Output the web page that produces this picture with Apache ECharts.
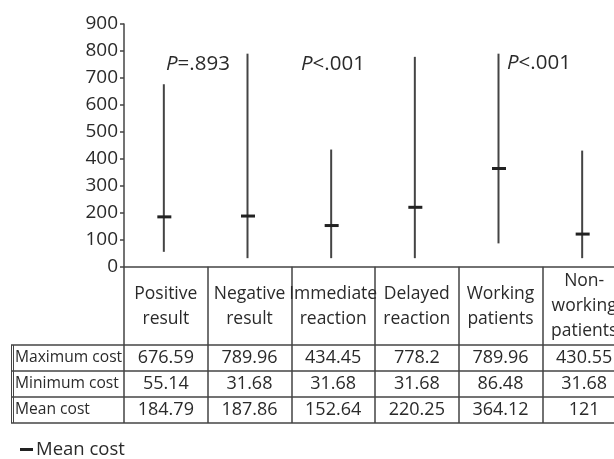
<!DOCTYPE html>
<html>
<head>
<meta charset="utf-8">
<style>html,body{margin:0;padding:0;background:#fff;}#c{width:614px;height:459px;}</style>
<script src="https://cdn.jsdelivr.net/npm/echarts@6/dist/echarts.min.js"></script>
</head>
<body>
<div id="c"></div>
<script>
// ---- data ----
const categories = ['Positive\nresult', 'Negative\nresult', 'Immediate\nreaction', 'Delayed\nreaction', 'Working\npatients', 'Non-\nworking\npatients'];
const maxCost = [676.59, 789.96, 434.45, 778.2, 789.96, 430.55];
const minCost = [55.14, 31.68, 31.68, 31.68, 86.48, 31.68];
const meanCost = [184.79, 187.86, 152.64, 220.25, 364.12, 121];
const rowLabels = ['Maximum cost', 'Minimum cost', 'Mean cost'];
const pLabels = ['=.893', '<.001', '<.001'];
const yMin = 0, yMax = 900, yInterval = 100;

// ---- layout ----
const FONT = 'Open Sans';
const TXT = '#2a2a2a';
const LINE = '#444';
const gridLeft = 124, gridTop = 24, gridWidth = 502, gridHeight = 242.7;
const axisY = gridTop + gridHeight;
const rowLines = [345, 371, 397, 423];
const pPos = [[166, 64], [301, 64], [507, 63]];

const chart = echarts.init(document.getElementById('c'));

const rowSeriesVals = [maxCost, minCost, meanCost];
const rowAxes = rowSeriesVals.map((vals, r) => ({
  type: 'category',
  gridIndex: 0,
  position: 'bottom',
  data: vals.map(v => String(v)),
  offset: (rowLines[r] + rowLines[r + 1]) / 2 - axisY,
  axisLine: { show: false },
  axisTick: { show: false },
  axisLabel: { interval: 0, margin: 0, verticalAlign: 'middle', fontFamily: FONT, fontSize: 18, color: TXT }
}));

const graphics = [];
rowLines.forEach(y => {
  graphics.push({ type: 'line', shape: { x1: 11, y1: y, x2: 614, y2: y }, style: { stroke: LINE, lineWidth: 1.5 }, silent: true });
});
graphics.push({ type: 'line', shape: { x1: 11.5, y1: rowLines[0], x2: 11.5, y2: rowLines[3] }, style: { stroke: LINE, lineWidth: 1 } });
graphics.push({ type: 'line', shape: { x1: 13.5, y1: rowLines[0], x2: 13.5, y2: rowLines[3] }, style: { stroke: LINE, lineWidth: 1 } });
rowLabels.forEach((t, r) => {
  graphics.push({ type: 'text', x: 15, y: (rowLines[r] + rowLines[r + 1]) / 2,
    style: { text: t, fontFamily: FONT, fontSize: 15.6, fill: TXT, verticalAlign: 'middle', align: 'left' } });
});
pLabels.forEach((t, i) => {
  graphics.push({ type: 'text', x: pPos[i][0], y: pPos[i][1],
    style: { text: '{i|P}' + t, fontFamily: FONT, fontSize: 20.5, fill: TXT, verticalAlign: 'middle', align: 'left',
      rich: { i: { fontStyle: 'italic', fontFamily: FONT, fontSize: 20.5, fill: TXT } } } });
});

chart.setOption({
  animation: false,
  backgroundColor: '#fff',
  grid: { left: gridLeft, top: gridTop, width: gridWidth, height: gridHeight, containLabel: false, outerBoundsMode: 'none' },
  legend: {
    data: [{ name: 'Mean cost', icon: 'rect' }],
    left: 15, top: 435, itemWidth: 13, itemHeight: 3, itemGap: 4,
    textStyle: { fontFamily: FONT, fontSize: 18.5, color: TXT, padding: [0, 0, 0, -2] }
  },
  xAxis: [{
    type: 'category',
    gridIndex: 0,
    data: categories,
    position: 'bottom',
    axisLine: { show: true, lineStyle: { color: LINE, width: 1.5 } },
    axisTick: { show: true, interval: 0, alignWithLabel: false, inside: false, length: rowLines[3] - axisY, lineStyle: { color: LINE, width: 1.5 } },
    axisLabel: { interval: 0, margin: 39.5, verticalAlign: 'middle', lineHeight: 25, fontFamily: FONT, fontSize: 17.5, color: TXT }
  }].concat(rowAxes),
  yAxis: {
    type: 'value', min: yMin, max: yMax, interval: yInterval,
    axisLine: { show: true, lineStyle: { color: LINE, width: 1.5 } },
    axisTick: { show: true, length: 4, lineStyle: { color: LINE, width: 1.5 } },
    splitLine: { show: false },
    axisLabel: { margin: 6, fontFamily: FONT, fontSize: 19, color: TXT }
  },
  series: [
    {
      name: 'Range', type: 'custom', xAxisIndex: 0,
      data: categories.map((c, i) => [i, minCost[i], maxCost[i]]),
      encode: { x: 0, y: [1, 2] },
      renderItem: function (params, api) {
        const lo = api.coord([api.value(0), api.value(1)]);
        const hi = api.coord([api.value(0), api.value(2)]);
        return { type: 'line', shape: { x1: lo[0] - 2, y1: lo[1], x2: hi[0] - 2, y2: hi[1] }, style: { stroke: '#444', lineWidth: 2 } };
      }
    },
    {
      name: 'Mean cost', type: 'custom', xAxisIndex: 0,
      itemStyle: { color: '#222' },
      data: categories.map((c, i) => [i, meanCost[i]]),
      encode: { x: 0, y: 1 },
      renderItem: function (params, api) {
        const p = api.coord([api.value(0), api.value(1)]);
        return { type: 'rect', shape: { x: p[0] - 8.5, y: p[1] - 1.5, width: 14, height: 3 }, style: { fill: '#222' } };
      }
    }
  ],
  graphic: graphics
});
</script>
</body>
</html>
